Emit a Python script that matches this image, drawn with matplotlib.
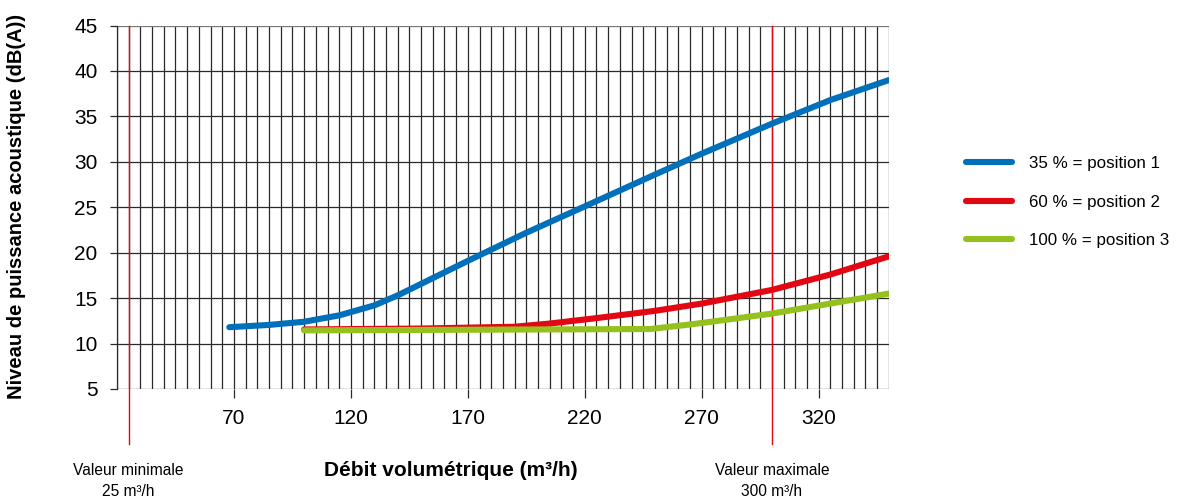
import matplotlib
matplotlib.use("Agg")
import matplotlib.pyplot as plt
import numpy as np

plt.rcParams['font.family'] = ['Liberation Sans', 'DejaVu Sans']

# Data
blue_x = [68, 85, 100, 115, 130, 140, 155, 170, 195, 220, 250, 270, 300, 325, 350]
blue_y = [11.8, 12.05, 12.4, 13.1, 14.2, 15.3, 17.2, 19.1, 22.2, 25.1, 28.6, 30.9, 34.2, 36.8, 39.0]

red_x = [100, 150, 190, 205, 225, 250, 270, 300, 325, 350]
red_y = [11.55, 11.65, 11.85, 12.2, 12.8, 13.6, 14.4, 15.9, 17.6, 19.6]

green_x = [100, 150, 200, 248, 265, 280, 300, 325, 350]
green_y = [11.45, 11.5, 11.55, 11.6, 12.1, 12.6, 13.3, 14.4, 15.5]

labels = ["35 % = position 1", "60 % = position 2", "100 % = position 3"]
colors = ["#0070BA", "#E30613", "#95C11F"]

x_ticks = [70, 120, 170, 220, 270, 320]
y_ticks = [5, 10, 15, 20, 25, 30, 35, 40, 45]
limit_min, limit_max = 25, 300

fig = plt.figure(figsize=(11.82, 5.01), dpi=100)
ax = fig.add_axes([0.099, 0.2236, 0.653, 0.7254])
ax.set_xlim(20, 350)
ax.set_ylim(5, 45)

grid_color = "#2a2a2a"
for gx in np.arange(20, 351, 5):
    ax.axvline(gx, color=grid_color, lw=0.9, zorder=1)
for gy in y_ticks:
    ax.axhline(gy, color=grid_color if gy != 45 else "#777777", lw=0.9, zorder=1)

for s in ["top", "right", "bottom"]:
    ax.spines[s].set_visible(False)
ax.spines["left"].set_color(grid_color)
ax.spines["left"].set_linewidth(0.9)

# limit lines extending below axis
for lx in (limit_min, limit_max):
    ax.plot([lx, lx], [45, -1.1], color="#E30613", lw=1.0, clip_on=False, zorder=2)

ax.plot(blue_x, blue_y, color=colors[0], lw=4.4, solid_capstyle="round", label=labels[0], zorder=5)
ax.plot(red_x, red_y, color=colors[1], lw=4.4, solid_capstyle="round", label=labels[1], zorder=4)
ax.plot(green_x, green_y, color=colors[2], lw=4.4, solid_capstyle="round", label=labels[2], zorder=4.5)

ax.set_xticks(x_ticks)
ax.set_yticks(y_ticks)
ax.tick_params(axis="x", length=6.5, width=0.9, color=grid_color, labelsize=15, pad=8)
ax.tick_params(axis="y", length=5, width=0.9, color=grid_color, labelsize=15, pad=9)

fig.text(451 / 1182, 1 - 470 / 501, "Débit volumétrique (m³/h)", fontsize=15, fontweight="bold",
         ha="center", va="center")
fig.text(17 / 1182, 1 - 206 / 501, "Niveau de puissance acoustique (dB(A))", fontsize=14.5,
         fontweight="bold", rotation=90, ha="center", va="center")

ax.text(limit_min, -3.2, "Valeur minimale\n25 m³/h", ha="center", va="top", fontsize=11.2,
        linespacing=1.5)
ax.text(limit_max, -3.2, "Valeur maximale\n300 m³/h", ha="center", va="top", fontsize=11.2,
        linespacing=1.5)

leg = ax.legend(loc="center left", bbox_to_anchor=(1.08, 0.514), frameon=False, fontsize=12.2,
                handlelength=2.7, handletextpad=1.0, labelspacing=1.4)
for line in leg.get_lines():
    line.set_linewidth(4.4)
    line.set_solid_capstyle("round")

fig.savefig("out.png", dpi=100)
